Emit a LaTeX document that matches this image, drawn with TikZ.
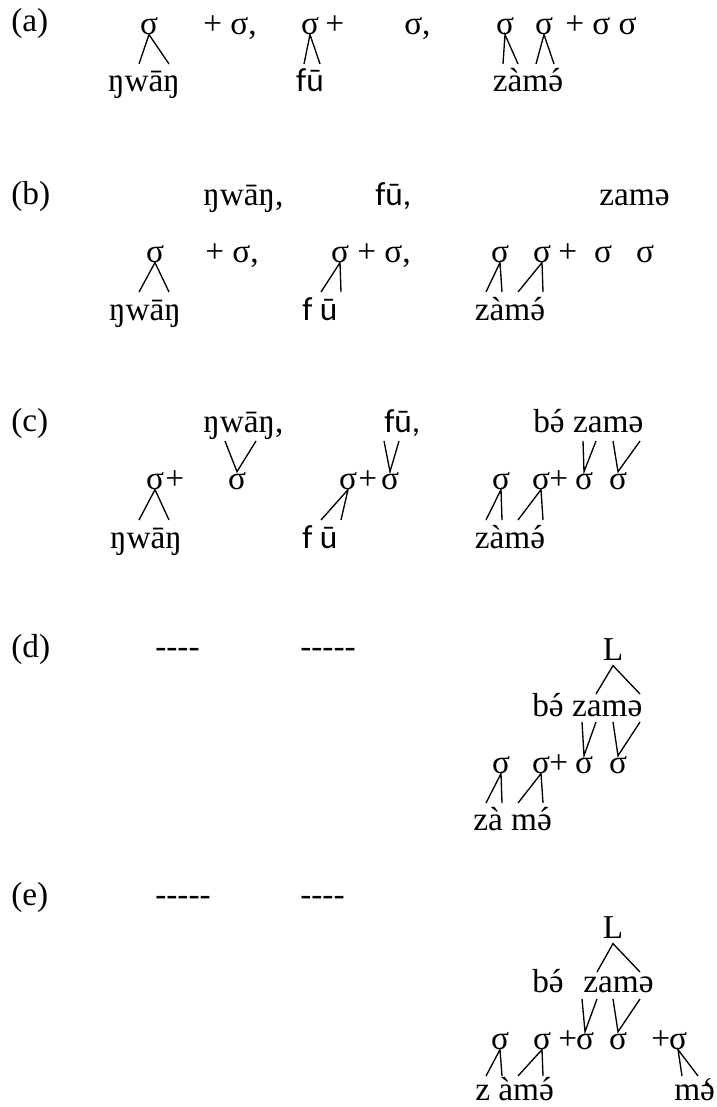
\documentclass[tikz,border=0pt]{standalone}
\usepackage{fontspec}
\setmainfont{Liberation Serif}
\newfontfamily\calfont{Carlito}
\usepackage{tikz}
\newcommand{\bigsize}{\fontsize{25}{30}\selectfont}
\newcommand{\hy}{\mbox{-}}
\newcommand{\schwaac}{\accent"00B4 ə}
\newcommand{\schwagr}{\accent"0060 ə}
\tikzstyle{syl} = [inner sep=0pt, anchor=base, font=\bigsize]
\tikzstyle{txt} = [inner sep=0pt, anchor=base west, font=\bigsize]
\tikzstyle{sanstxt} = [inner sep=0pt, anchor=base west, font=\calfont\bigsize]
\tikzstyle{sansword} = [inner sep=0pt, anchor=base, font=\calfont\bigsize]
\tikzstyle{foot} = [inner sep=0pt, inner ysep=4pt, anchor=base, font=\bigsize]
\tikzstyle{branch} = [line width=1pt]

\begin{document}
\begin{tikzpicture}[x=0.75pt, y=-0.75pt]
        \useasboundingbox (0,0) rectangle (717,1107);

        % (a)
        \node (laba) [txt] at (11,31) {(a)};
        \node (sa1) [syl] at (149,34) {σ};
        \node (pa1) [txt] at (203,34) {+ σ,};
        \node (sa2) [syl] at (310,34) {σ};
        \node (pa2) [txt] at (325,34) {+};
        \node (pa3) [txt] at (404,34) {σ,};
        \node (sa3) [syl] at (505,34) {σ};
        \node (sa4) [syl] at (544,34) {σ};
        \node (pa4) [txt] at (565,34) {+ σ σ};
        \node (wa1) [syl] at (144,91) {ŋwāŋ};
        \node (wa2) [sansword] at (310,91) {fū};
        \node (wa3) [syl] at (528,91) {zàm\schwaac};
        \coordinate (a1l) at (139,64); \coordinate (a1r) at (169,64);
        \coordinate (a2l) at (304,64); \coordinate (a2r) at (320,64);
        \coordinate (a3l) at (503,64); \coordinate (a3r) at (518,64);
        \coordinate (a4l) at (536,64); \coordinate (a4r) at (554,64);
        \draw [branch] (a1l) -- (sa1.south) -- (a1r);
        \draw [branch] (a2l) -- (sa2.south) -- (a2r);
        \draw [branch] (a3l) -- (sa3.south) -- (a3r);
        \draw [branch] (a4l) -- (sa4.south) -- (a4r);

        % (b)
        \node (labb) [txt] at (11,204) {(b)};
        \node (tb1) [txt] at (203,205) {ŋwāŋ,};
        \node (tb2) [sanstxt] at (375,205) {fū,};
        \node (tb3) [txt] at (599,205) {zamə};
        \node (sb1) [syl] at (155,262) {σ};
        \node (pb1) [txt] at (205,262) {+ σ,};
        \node (sb2) [syl] at (340,262) {σ};
        \node (pb2) [txt] at (357,262) {+ σ,};
        \node (sb3) [syl] at (500,262) {σ};
        \node (sb4) [syl] at (542,262) {σ};
        \node (pb3) [txt] at (558,262) {+};
        \node (sb5) [syl] at (603,262) {σ};
        \node (sb6) [syl] at (645,262) {σ};
        \node (wb1) [syl] at (145,320) {ŋwāŋ};
        \node (wb2) [sanstxt] at (302,320) {f ū};
        \node (wb3) [syl] at (510,320) {zàm\schwaac};
        \coordinate (b1l) at (139,292); \coordinate (b1r) at (169,292);
        \coordinate (b2l) at (321,292); \coordinate (b2r) at (341,292);
        \coordinate (b3l) at (486,292); \coordinate (b3r) at (502,292);
        \coordinate (b4l) at (518,292); \coordinate (b4r) at (543,292);
        \draw [branch] (b1l) -- (sb1.south) -- (b1r);
        \draw [branch] (b2l) -- (sb2.south) -- (b2r);
        \draw [branch] (b3l) -- (sb3.south) -- (b3r);
        \draw [branch] (b4l) -- (sb4.south) -- (b4r);

        % (c)
        \node (labc) [txt] at (11,431) {(c)};
        \node (tc1) [txt] at (203,432) {ŋwāŋ,};
        \node (tc2) [sanstxt] at (384,432) {fū,};
        \node (tc3) [txt] at (533,432) {b\schwaac\ zamə};
        \node (sc1) [syl] at (155,489) {σ};
        \node (pc1) [txt] at (165,489) {+};
        \node (sc2) [syl] at (237,489) {σ};
        \node (sc3) [syl] at (348,489) {σ};
        \node (pc2) [txt] at (358,489) {+};
        \node (sc4) [syl] at (390,489) {σ};
        \node (sc5) [syl] at (501,489) {σ};
        \node (sc6) [syl] at (541,489) {σ};
        \node (pc3) [txt] at (549,489) {+};
        \node (sc7) [syl] at (584,489) {σ};
        \node (sc8) [syl] at (618,489) {σ};
        \node (wc1) [syl] at (146,548) {ŋwāŋ};
        \node (wc2) [sanstxt] at (302,548) {f ū};
        \node (wc3) [syl] at (510,548) {zàm\schwaac};
        \coordinate (c2l) at (225,441); \coordinate (c2r) at (256,441);
        \coordinate (c4l) at (384,441); \coordinate (c4r) at (399,441);
        \coordinate (c7l) at (583,441); \coordinate (c7r) at (596,441);
        \coordinate (c8l) at (613,441); \coordinate (c8r) at (640,441);
        \draw [branch] (c2l) -- (sc2.north) -- (c2r);
        \draw [branch] (c4l) -- (sc4.north) -- (c4r);
        \draw [branch] (c7l) -- (sc7.north) -- (c7r);
        \draw [branch] (c8l) -- (sc8.north) -- (c8r);
        \coordinate (c1l) at (139,520); \coordinate (c1r) at (169,520);
        \coordinate (c3l) at (321,520); \coordinate (c3r) at (341,520);
        \coordinate (c5l) at (486,520); \coordinate (c5r) at (502,520);
        \coordinate (c6l) at (518,520); \coordinate (c6r) at (543,520);
        \draw [branch] (c1l) -- (sc1.south) -- (c1r);
        \draw [branch] (c3l) -- (sc3.south) -- (c3r);
        \draw [branch] (c5l) -- (sc5.south) -- (c5r);
        \draw [branch] (c6l) -- (sc6.south) -- (c6r);

        % (d)
        \node (labd) [txt] at (11,657) {(d)};
        \node (dd1) [txt] at (155,657) {\hy\hy\hy\hy};
        \node (dd2) [txt] at (300,657) {\hy\hy\hy\hy\hy};
        \node (Ld) [foot] at (613,660) {L};
        \node (td) [txt] at (532,716) {b\schwaac\ zamə};
        \node (sd1) [syl] at (501,773) {σ};
        \node (sd2) [syl] at (541,773) {σ};
        \node (pd1) [txt] at (549,773) {+};
        \node (sd3) [syl] at (584,773) {σ};
        \node (sd4) [syl] at (618,773) {σ};
        \node (wd) [txt] at (473,830) {zà m\schwaac};
        \coordinate (dLl) at (596,694); \coordinate (dLr) at (640,694);
        \draw [branch] (dLl) -- (Ld.south) -- (dLr);
        \coordinate (d3l) at (582,722); \coordinate (d3r) at (596,722);
        \coordinate (d4l) at (613,722); \coordinate (d4r) at (640,722);
        \draw [branch] (d3l) -- (sd3.north) -- (d3r);
        \draw [branch] (d4l) -- (sd4.north) -- (d4r);
        \coordinate (d1l) at (486,803); \coordinate (d1r) at (502,803);
        \coordinate (d2l) at (518,803); \coordinate (d2r) at (543,803);
        \draw [branch] (d1l) -- (sd1.south) -- (d1r);
        \draw [branch] (d2l) -- (sd2.south) -- (d2r);

        % (e)
        \node (labe) [txt] at (11,905) {(e)};
        \node (de1) [txt] at (155,905) {\hy\hy\hy\hy\hy};
        \node (de2) [txt] at (300,905) {\hy\hy\hy\hy};
        \node (Le) [foot] at (613,938) {L};
        \node (be) [txt] at (532,992) {b\schwaac};
        \node (ze) [txt] at (583,992) {zamə};
        \node (se1) [syl] at (500,1049) {σ};
        \node (se2) [syl] at (542,1049) {σ};
        \node (pe1) [txt] at (558,1049) {+};
        \node (se3) [syl] at (585,1049) {σ};
        \node (se4) [syl] at (618,1049) {σ};
        \node (pe2) [txt] at (651,1049) {+};
        \node (se5) [syl] at (678,1049) {σ};
        \node (we1) [txt] at (475,1100) {z àm\schwaac};
        \node (we2) [txt] at (674,1100) {m\schwagr};
        \coordinate (eLl) at (597,972); \coordinate (eLr) at (640,972);
        \draw [branch] (eLl) -- (Le.south) -- (eLr);
        \coordinate (e3l) at (582,999); \coordinate (e3r) at (597,999);
        \coordinate (e4l) at (613,999); \coordinate (e4r) at (640,999);
        \draw [branch] (e3l) -- (se3.north) -- (e3r);
        \draw [branch] (e4l) -- (se4.north) -- (e4r);
        \coordinate (e1l) at (486,1076); \coordinate (e1r) at (502,1076);
        \coordinate (e2l) at (518,1076); \coordinate (e2r) at (543,1076);
        \coordinate (e5l) at (682,1076); \coordinate (e5r) at (698,1076);
        \draw [branch] (e1l) -- (se1.south) -- (e1r);
        \draw [branch] (e2l) -- (se2.south) -- (e2r);
        \draw [branch] (e5l) -- (se5.south) -- (e5r);

    \end{tikzpicture}
\end{document}
